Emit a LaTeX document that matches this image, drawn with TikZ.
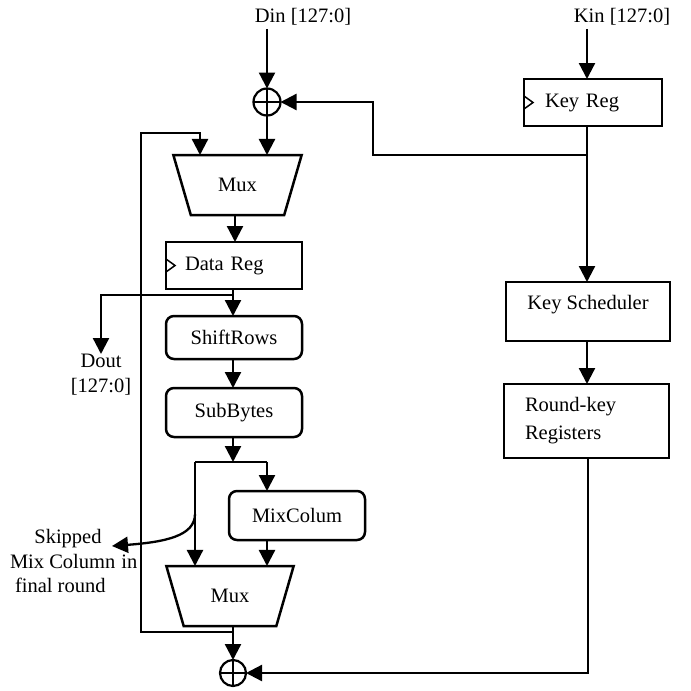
\documentclass[tikz,border=0pt]{standalone}
\usepackage{fontspec}
\setmainfont{Liberation Serif}
\usetikzlibrary{arrows.meta,shapes.geometric}
\begin{document}
\begin{tikzpicture}[x=1pt,y=-1pt,
 every node/.style={font=\fontsize{20.5}{25}\selectfont, outer sep=0pt},
 line/.style={line width=2.3pt},
 arr/.style={line width=2.3pt, -{Triangle[length=16pt,width=16pt]}},
 box/.style={draw, line width=2.5pt, inner sep=0pt},
 rbox/.style={box, rounded corners=8pt},
 muxshape/.style={draw, line width=2.5pt, trapezium, shape border rotate=180, trapezium angle=62, trapezium stretches=true, minimum height=60pt, minimum width=129pt, inner sep=0pt},
 xorshape/.style={draw, circle, line width=2.2pt, minimum size=27pt, inner sep=0pt},
 clk/.style={line width=1.5pt}
]
\useasboundingbox[fill=white] (0,0) rectangle (691,691);

% labels
\node (din) at (303,17) {Din [127:0]};
\node (kin) at (622,17) {Kin [127:0]};

% data path
\node[xorshape] (xor1) at (267,102) {};
\draw[line] (xor1.north) -- (xor1.south) (xor1.west) -- (xor1.east);
\node[muxshape] (mux1) at (237.5,185) {Mux};
\node[box, minimum width=136pt, minimum height=47pt, text width=98pt, align=left] (dreg) at (234,265.5) {Data Reg};
\draw[clk] (dreg.west) ++(0,-6.5) -- ++(9,6.5) -- ++(-9,6.5);
\node[rbox, minimum width=136pt, minimum height=43pt] (shr) at (234,337.5) {ShiftRows};
\node[rbox, minimum width=136pt, minimum height=49pt] (subb) at (234,412.5) {SubBytes};
\node[rbox, minimum width=136pt, minimum height=49pt] (mixc) at (297,515.5) {MixColum};
\node[muxshape, minimum width=128pt] (mux2) at (230,596) {Mux};
\node[xorshape, minimum size=26pt] (xor2) at (233,673) {};
\draw[line] (xor2.north) -- (xor2.south) (xor2.west) -- (xor2.east);

\node[anchor=north, align=center, inner sep=0pt, font=\fontsize{20.5}{25}\selectfont] (dout) at (101,354) {Dout\\{[127:0]}};
\node[anchor=base] (sk1t) at (68,543) {Skipped};
\node[anchor=base west, inner sep=0pt] (sk2t) at (10,568) {Mix Column\hspace{6pt}in};
\node[anchor=base west, inner sep=0pt] (sk3t) at (15,592) {final round};

% key path
\node[box, minimum width=138pt, minimum height=47pt, text width=96pt, align=left] (kreg) at (593,102.5) {Key Reg};
\draw[clk] (kreg.west) ++(0,-6.5) -- ++(9,6.5) -- ++(-9,6.5);
\node[box, minimum width=164pt, minimum height=59pt] (ks) at (588,311.5) {};
\node (kst) at (588,305) {Key Scheduler};
\node[box, minimum width=165pt, minimum height=74pt, text width=123pt, align=left, font=\fontsize{20.5}{28}\selectfont] (rk) at (586.5,421) {Round-key\\Registers};

% coordinates
\coordinate (kx) at (587,0);
\coordinate (kbr) at (587,155);
\coordinate (kj) at (373,155);
\coordinate (fb1) at (233,632);
\coordinate (fbtop) at (141,133);
\coordinate (fbin) at (200,155);
\coordinate (dbr) at (233,295);
\coordinate (sp) at (233,462);
\coordinate (spL) at (195,462);
\coordinate (spR) at (267,462);
\coordinate (sk0) at (195,514);
\coordinate (sk1) at (112,546);
\coordinate (rkc) at (588,673);

% connectors
\draw[arr] (xor1 |- din.south) -- (xor1.north);
\draw[arr] (xor1.south) -- (xor1 |- mux1.north);
\draw[arr] (kx |- kin.south) -- (kx |- kreg.north);
\draw[arr] (kx |- kreg.south) -- (kx |- ks.north);
\draw[arr] (kx |- ks.south) -- (kx |- rk.north);
\draw[arr] (kbr) -- (kj) |- (xor1.east);
\draw[arr] (fb1) -| (fbtop) -| (fbin |- mux1.north);
\draw[arr] (mux1.south -| 235,0) -- (dreg.north -| 235,0);
\draw[arr] (dreg.south -| 233,0) -- (shr.north -| 233,0);
\draw[arr] (dbr) -| (dout.north);
\draw[arr] (shr.south -| 233,0) -- (subb.north -| 233,0);
\draw[arr] (subb.south -| sp) -- (sp);
\draw[line] (spL) -- (spR);
\draw[arr] (spR) -- (spR |- mixc.north);
\draw[arr] (spL) -- (spL |- mux2.north);
\draw[arr] (mixc.south -| spR) -- (spR |- mux2.north);
\draw[arr] (sk0) .. controls (195,536) and (165,542) .. (sk1);
\draw[arr] (xor2 |- mux2.south) -- (xor2.north);
\draw[arr] (rk.south -| rkc) -- (rkc) -- (xor2.east);
\end{tikzpicture}
\end{document}
